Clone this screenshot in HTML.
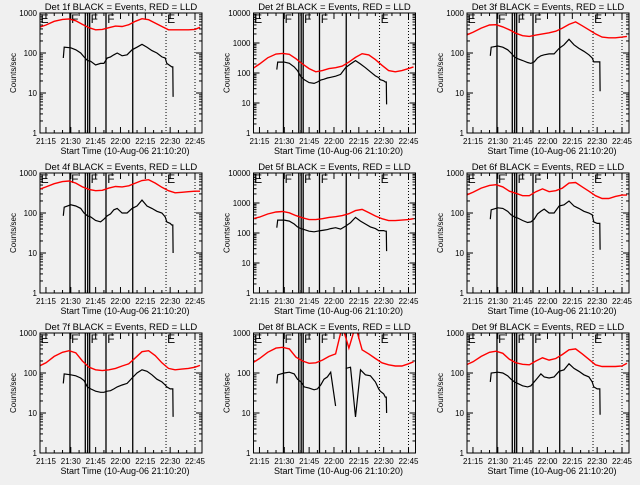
<!DOCTYPE html>
<html><head><meta charset="utf-8"><style>
html,body{margin:0;padding:0;background:#f0f0f0;}
svg text{font-family:"Liberation Sans",sans-serif;}
</style></head><body>
<svg id="chart" width="640" height="480" viewBox="0 0 640 480" xmlns="http://www.w3.org/2000/svg">
<rect x="0" y="0" width="640" height="480" fill="#f0f0f0"/>
</svg>
<script>
// Shared time samples (minutes after 21:00)
const redTimes = [11,15,20,25,29,33,37,41,45,49,53,57,61,65,69,73,77,81,85,89,93,97,101,105,108];
const blackTimes = [25.5,26,30,33,36,38,40,42,45,48,50,52,54,56,58,61,64,67,70,73,76,79,82,85,87,88,90,91,91.6,91.8];
const xTickTimes = [15,30,45,60,75,90,105];
const xTickLabels = ["21:15","21:30","21:45","22:00","22:15","22:30","22:45"];
const eventSolid = [29.5,38.75,40.2,41.4,51.25,67.4];
const eventDotted = [87.5,105];
const eventLetterTimes = [11.8,30.2,42.0,52.0,88.2];
const eventLetters = ["E","F","F","F","E"];
const detectorNames = ["1f","2f","3f","4f","5f","6f","7f","8f","9f"];
const yMaxDecades = [3,4,3,3,4,3,3,3,3];
const red1 = [440,500,620,690,710,640,520,430,380,390,430,470,460,510,620,720,680,560,460,380,380,380,380,390,440];
const red2 = [140,200,320,430,450,420,300,200,140,110,120,140,150,170,230,330,440,400,280,180,120,110,120,140,160];
const red3 = [280,330,420,500,510,450,380,310,270,260,280,300,320,350,420,520,600,480,380,300,250,240,240,250,260];
const red4 = [390,450,540,610,630,560,450,390,360,370,420,460,450,480,560,650,680,560,440,360,320,330,340,350,350];
const red5 = [300,340,430,500,520,470,380,320,280,280,300,330,350,380,440,560,610,480,370,300,260,260,270,280,300];
const red6 = [280,330,420,490,510,450,350,310,270,270,340,400,340,360,420,560,580,450,350,270,230,230,260,280,280];
const red7 = [150,180,260,330,360,320,200,140,120,115,120,130,150,170,240,340,360,270,180,130,120,125,130,140,155];
const red8 = [180,230,330,420,440,400,250,200,175,180,210,260,300,1500,420,1500,380,300,230,180,160,150,150,170,190];
const red9 = [160,190,260,330,350,310,220,180,165,160,200,240,210,230,290,380,400,300,220,160,145,145,145,150,175];
const black1 = [75,140,135,120,100,80,65,62,50,55,55,75,80,90,100,85,90,120,140,165,140,115,100,80,75,55,48,45,45,8];
const black2 = [130,230,230,210,160,120,75,60,48,45,50,58,62,68,72,78,90,150,200,260,200,150,110,80,70,60,55,50,50,9];
const black3 = [85,140,150,140,120,100,80,72,65,58,55,60,75,85,90,95,95,130,160,220,160,130,110,90,75,60,60,60,60,11];
const black4 = [85,140,160,150,130,100,85,80,65,60,70,85,95,120,130,100,100,130,150,210,150,130,110,100,80,60,55,50,50,10];
const black5 = [150,270,270,250,200,160,140,130,115,110,115,120,125,130,140,150,135,170,220,330,250,200,160,140,120,120,120,115,115,25];
const black6 = [70,120,135,130,110,90,80,75,65,58,60,70,95,110,125,100,100,150,160,200,150,130,110,100,90,60,55,55,55,12];
const black7 = [55,95,90,85,75,65,45,40,35,33,33,35,36,40,45,50,55,75,100,120,110,90,70,60,50,45,40,40,40,8];
const black8 = [55,90,100,105,95,70,60,45,42,38,40,50,70,80,105,15,null,130,140,8,120,90,85,60,40,35,30,25,25,10];
const black9 = [60,100,105,100,85,70,60,55,48,45,48,60,75,95,80,75,80,110,120,170,130,110,90,80,60,45,40,40,40,9];
const redSeries = [red1,red2,red3,red4,red5,red6,red7,red8,red9];
const blackSeries = [black1,black2,black3,black4,black5,black6,black7,black8,black9];

const NS = "http://www.w3.org/2000/svg";
const svg = document.getElementById("chart");
const T0 = 11.4, PXMIN = 1.656, BW = 162, BH = 120;
function mk(tag, attrs, parent){
  const e = document.createElementNS(NS, tag);
  for (const k in attrs) e.setAttribute(k, attrs[k]);
  parent.appendChild(e);
  return e;
}
for (let p = 0; p < 9; p++) {
  const col = p % 3, row = Math.floor(p / 3);
  const bx = 40 + col * 213.5, by = 13 + row * 160;
  const dec = yMaxDecades[p];
  const xS = t => bx + (t - T0) * PXMIN;
  const yS = v => by + BH - Math.log10(v) * BH / dec;
  const g = mk("g", {}, svg);
  
  
  const clipId = "clip" + p;
  const cp = mk("clipPath", {id: clipId}, g);
  mk("rect", {x: bx, y: by, width: BW, height: BH}, cp);
  const title = mk("text", {x: bx + BW/2, y: by - 3, "font-size": "9.5", "text-anchor": "middle", fill: "#000"}, g);
  title.textContent = "Det " + detectorNames[p] + " BLACK = Events, RED = LLD";
  
  
  const yl = mk("text", {x: 0, y: 0, "font-size": "8", "text-anchor": "middle", fill: "#000",
    transform: "translate(" + (bx - 24) + "," + (by + BH/2) + ") rotate(-90)"}, g);
  yl.textContent = "Counts/sec";
  
  
  const xt = mk("text", {x: bx + BW/2 + 4, y: by + BH + 21, "font-size": "9", "text-anchor": "middle", fill: "#000"}, g);
  xt.textContent = "Start Time (10-Aug-06 21:10:20)";
  
  
  for (let m = 15; m <= 105; m += 5) {
    const x = xS(m);
    const len = (m % 15 === 0) ? 6 : 3;
    mk("line", {x1: x, y1: by + BH, x2: x, y2: by + BH - len, stroke: "#000", "stroke-width": 1}, g);
    mk("line", {x1: x, y1: by, x2: x, y2: by + len, stroke: "#000", "stroke-width": 1}, g);
  }
  xTickTimes.forEach((t, i) => {
    const tl = mk("text", {x: xS(t), y: by + BH + 11, "font-size": "8", "text-anchor": "middle", fill: "#000"}, g);
    tl.textContent = xTickLabels[i];
    
    
  });
  for (let d = 0; d <= dec; d++) {
    const v = Math.pow(10, d), y = yS(v);
    mk("line", {x1: bx, y1: y, x2: bx + 6, y2: y, stroke: "#000"}, g);
    mk("line", {x1: bx + BW, y1: y, x2: bx + BW - 6, y2: y, stroke: "#000"}, g);
    const yt = mk("text", {x: bx - 3, y: y + 3, "font-size": "8", "text-anchor": "end", fill: "#000"}, g);
    yt.textContent = String(v);
    
    
    if (d < dec) for (let k = 2; k <= 9; k++) {
      const yy = yS(v * k);
      mk("line", {x1: bx, y1: yy, x2: bx + 3, y2: yy, stroke: "#000"}, g);
      mk("line", {x1: bx + BW, y1: yy, x2: bx + BW - 3, y2: yy, stroke: "#000"}, g);
    }
  }
  const inner = mk("g", {"clip-path": "url(#" + clipId + ")"}, g);
  eventSolid.forEach(t => {
    const l = mk("line", {x1: xS(t), y1: by, x2: xS(t), y2: by + BH, stroke: "#000", "stroke-width": 1.3}, inner);
    
    
  });
  eventDotted.forEach(t => {
    const l = mk("line", {x1: xS(t), y1: by, x2: xS(t), y2: by + BH, stroke: "#000", "stroke-width": 1, "stroke-dasharray": "1,2"}, inner);
    
    
  });
  eventLetterTimes.forEach((t, i) => {
    const el = mk("text", {x: xS(t), y: by + 10, "font-size": "12", fill: "#000"}, inner);
    el.textContent = eventLetters[i];
    
    
  });
  function pathFor(times, vals){
    let d = "", pen = false;
    for (let i = 0; i < times.length; i++) {
      const v = vals[i];
      if (v === null) { pen = false; continue; }
      const x = xS(times[i]).toFixed(1), y = yS(v).toFixed(1);
      d += (pen ? "L" : "M") + x + "," + y + " ";
      pen = true;
    }
    return d;
  }
  const rp = mk("path", {d: pathFor(redTimes, redSeries[p]), fill: "none", stroke: "#ff0000", "stroke-width": 1.4}, inner);
  
  
  const bp = mk("path", {d: pathFor(blackTimes, blackSeries[p]), fill: "none", stroke: "#000", "stroke-width": 1.2}, inner);
  
  
  const fr = mk("rect", {x: bx, y: by, width: BW, height: BH, fill: "none", stroke: "#000", "stroke-width": 1}, g);
  
  
}
</script>
</body></html>
